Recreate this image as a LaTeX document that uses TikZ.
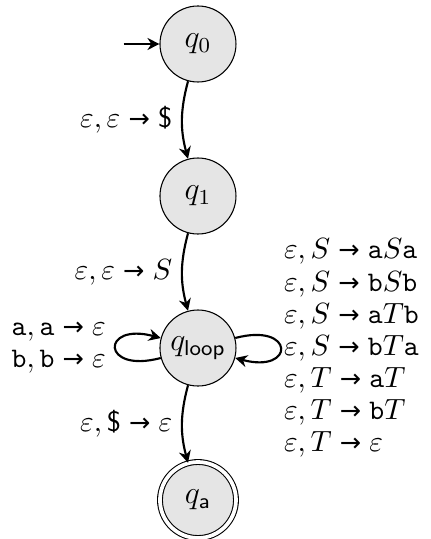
\documentclass[tikz,border=0pt]{standalone}
\usepackage{fontspec}
\newfontfamily\arrowfont[Scale=0.9]{DejaVu Sans}
\usetikzlibrary{arrows.meta}
\newcommand{\tor}{\mathrel{\hbox{\arrowfont →}}}
\begin{document}
\begin{tikzpicture}[
  every node/.style={font={\fontsize{10.6}{12}\selectfont}},
  st/.style={circle,draw,fill=gray!20,minimum size=1cm,inner sep=0pt,font={\fontsize{11.5}{12}\selectfont}},
  acc/.style={st,double,double distance=1.4pt},
  tr/.style={-{Stealth[length=4.5pt,width=4.5pt]},thick},
  multi/.style={align=left}
]
\useasboundingbox (-2.605,0.579) rectangle (3.053,-6.513);
\node[st] (q0) at (0,0) {$q_0$};
\node[st] (q1) at (0,-2) {$q_1$};
\node[st] (ql) at (0,-4) {$q_{\mathsf{loop}}$};
\node[acc] (qa) at (0,-6) {$q_{\mathsf{a}}$};
\coordinate (init) at (-0.98,0);
\draw[tr] (init) -- (q0);
\draw[tr] (q0) to[bend right=15] node[left] {$\varepsilon,\varepsilon\tor\textsf{\$}$} (q1);
\draw[tr] (q1) to[bend right=15] node[left] {$\varepsilon,\varepsilon\tor S$} (ql);
\draw[tr] (ql) to[bend right=15] node[left] {$\varepsilon,\textsf{\$}\tor\varepsilon$} (qa);
\draw[tr] (ql) to[loop left] node[multi] {$\mathtt{a},\mathtt{a}\tor\varepsilon$\\$\mathtt{b},\mathtt{b}\tor\varepsilon$} ();
\draw[tr] (ql) to[loop right] node[multi,inner sep=1pt] {$\varepsilon,S\tor\mathtt{a}S\mathtt{a}$\\$\varepsilon,S\tor\mathtt{b}S\mathtt{b}$\\$\varepsilon,S\tor\mathtt{a}T\mathtt{b}$\\$\varepsilon,S\tor\mathtt{b}T\mathtt{a}$\\$\varepsilon,T\tor\mathtt{a}T$\\$\varepsilon,T\tor\mathtt{b}T$\\$\varepsilon,T\tor\varepsilon$} ();
\end{tikzpicture}
\end{document}
